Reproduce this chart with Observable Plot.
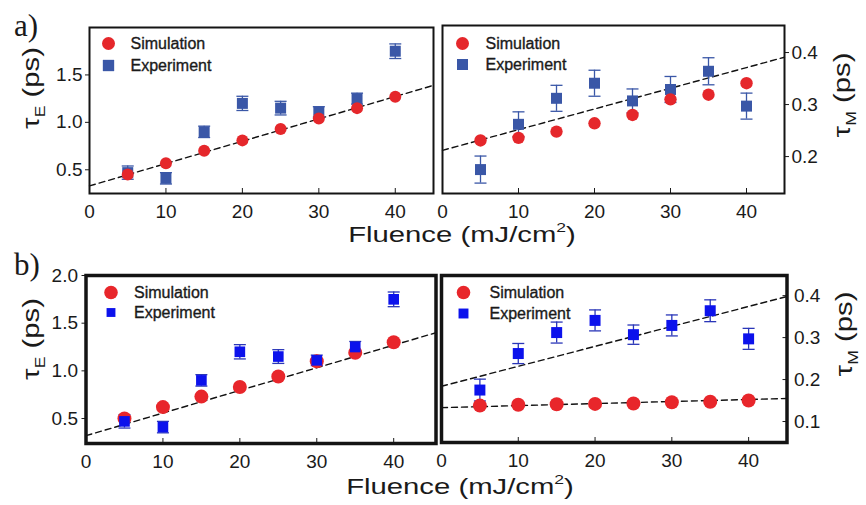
<!DOCTYPE html>
<html>
<head>
<meta charset="utf-8">
<script src="https://cdn.jsdelivr.net/npm/d3@7"></script>
<script src="https://cdn.jsdelivr.net/npm/@observablehq/plot@0.6"></script>
<style>
  body { margin: 0; background: #fff; }
  #fig { position: relative; width: 866px; height: 505px; overflow: hidden; background: #fff;
         font-family: "Liberation Sans", Arial, sans-serif; color: #1a1a1a; }
  #fig svg { position: absolute; overflow: visible; }
  .lbl { position: absolute; white-space: nowrap; line-height: 1; }
  .serif { font-family: "Liberation Serif", "Times New Roman", serif; }
  .sub { font-size: 0.6em; position: relative; top: 0.45em; }
  .sup { font-size: 0.6em; position: relative; top: -0.75em; }
</style>
</head>
<body>
<div id="fig"></div>
<script>
// Fluence values (mJ/cm^2)
const fluence = [5, 10, 15, 20, 25, 30, 35, 40];

// Electron lifetime tau_E (ps)
const tauE_exp   = [0.47, 0.41, 0.90, 1.20, 1.15, 1.11, 1.25, 1.75];
const tauE_err   = [0.07, 0.06, 0.06, 0.075, 0.072, 0.055, 0.058, 0.077];
const tauE_simA  = [0.45, 0.57, 0.70, 0.81, 0.93, 1.04, 1.15, 1.27];
const tauE_simB  = [0.50, 0.62, 0.73, 0.83, 0.94, 1.10, 1.19, 1.30];

// Magnon-like lifetime tau_M (ps)
const tauM_exp   = [0.175, 0.262, 0.312, 0.341, 0.307, 0.329, 0.364, 0.297];
const tauM_err   = [0.026, 0.024, 0.025, 0.025, 0.023, 0.025, 0.026, 0.025];
const tauM_simA  = [0.231, 0.236, 0.248, 0.264, 0.280, 0.310, 0.319, 0.341];
const tauM_simB  = [0.138, 0.140, 0.141, 0.142, 0.143, 0.146, 0.147, 0.150];

// Linear fits, given by their end points
const fitX_A      = [0, 45];
const fitX_B      = [0, 45.5];
const fitE_A      = [0.33, 1.39];
const fitE_B      = [0.32, 1.40];
const fitM_A      = [0.212, 0.391];
const fitM_B_exp  = [0.184, 0.398];
const fitM_B_sim  = [0.133, 0.155];

// Tick values
const xTicks       = [0, 10, 20, 30, 40];
const tauE_ticksA  = [0.5, 1.0, 1.5];
const tauE_ticksB  = [0.5, 1.0, 1.5, 2.0];
const tauM_ticksA  = [0.2, 0.3, 0.4];
const tauM_ticksB  = [0.1, 0.2, 0.3, 0.4];

const legendLabels = ["Simulation", "Experiment"];

const rows = (ys, errs) => fluence.map((x, i) => ({x, y: ys[i], e: errs ? errs[i] : 0}));
const fitRows = (xs, ys) => xs.map((x, i) => ({x, y: ys[i]}));

// horizontal cap drawn at the ends of each error bar
const capSymbol = { draw(ctx) { ctx.moveTo(-6, 0); ctx.lineTo(6, 0); } };

const fig = document.getElementById("fig");
const fmt = d3.format(".1f");

function panel(o) {
  const [fx0, fy0, fx1, fy1] = o.frame;
  const marginLeft = fx0 - o.left, marginTop = fy0 - o.top;
  const marginRight = o.left + o.width - fx1, marginBottom = o.top + o.height - fy1;
  const exp = rows(o.exp, o.err), sim = rows(o.sim);
  const anchorY = o.yAnchor;
  const marks = [
    ...o.fits.map(f => Plot.line(fitRows(f.x, f.y), {x: "x", y: "y", stroke: "#111", strokeWidth: 1.4, strokeDasharray: "6,4"})),
    Plot.ruleX(exp, {x: "x", y1: d => d.y - d.e, y2: d => d.y + d.e, stroke: o.errColor, strokeWidth: 1.3}),
    Plot.dot(exp, {x: "x", y: d => d.y + d.e, symbol: capSymbol, fill: "none", stroke: o.errColor, strokeWidth: 1.3}),
    Plot.dot(exp, {x: "x", y: d => d.y - d.e, symbol: capSymbol, fill: "none", stroke: o.errColor, strokeWidth: 1.3})
  ];
  const squares = Plot.dot(exp, {x: "x", y: "y", symbol: "square", r: o.rSq, fill: o.blue});
  const circles = Plot.dot(sim, {x: "x", y: "y", r: o.rCirc, fill: o.red});
  if (o.simOnTop) marks.push(squares, circles); else marks.push(circles, squares);

  // legend inside the upper-left corner of the frame
  const L = o.legend;
  marks.push(
    Plot.dot([0], {x: null, y: null, frameAnchor: "top-left", dx: L.dx, dy: L.dy1, r: L.rCirc, fill: o.red}),
    Plot.dot([0], {x: null, y: null, frameAnchor: "top-left", dx: L.dx, dy: L.dy2, r: L.rSq, symbol: "square", fill: o.blue}),
    Plot.text([legendLabels[0]], {frameAnchor: "top-left", text: d => d, dx: L.tx, dy: L.dy1, textAnchor: "start", lineAnchor: "middle",
      fontSize: 16, fill: "#1a1a1a", stroke: "#1a1a1a", strokeWidth: 0.35}),
    Plot.text([legendLabels[1]], {frameAnchor: "top-left", text: d => d, dx: L.tx, dy: L.dy2, textAnchor: "start", lineAnchor: "middle",
      fontSize: 16, fill: "#1a1a1a", stroke: "#1a1a1a", strokeWidth: 0.35})
  );

  // axes: labels outside, small ticks
  marks.push(
    Plot.axisX(xTicks, {tickSize: 0, tickPadding: o.xPad, fontSize: 19, fill: "#1a1a1a", tickFormat: d => d, label: null}),
    Plot.axisX(xTicks, {tickSize: 5, dy: -5, tickFormat: () => "", label: null, stroke: "#1a1a1a"}),
    o.yInside
      ? Plot.axisY(o.yTicks, {anchor: anchorY, tickSize: 5, dx: anchorY === "right" ? -5 : 5, tickFormat: () => "", label: null, stroke: "#1a1a1a"})
      : Plot.axisY(o.yTicks, {anchor: anchorY, tickSize: 4, tickFormat: () => "", label: null, stroke: "#1a1a1a"}),
    Plot.axisY(o.yTicks, {anchor: anchorY, tickSize: 0, tickPadding: o.yPad, fontSize: 19, fill: "#1a1a1a", tickFormat: fmt, label: null}),
    Plot.frame({stroke: "#141414", strokeWidth: o.frameWidth})
  );

  const svg = Plot.plot({
    width: o.width, height: o.height,
    marginLeft, marginRight, marginTop, marginBottom,
    style: {background: "none", overflow: "visible", fontFamily: "'Liberation Sans', Arial, sans-serif"},
    x: {domain: o.xDomain, axis: null},
    y: {domain: o.yDomain, axis: null},
    marks
  });
  svg.style.left = o.left + "px";
  svg.style.top = o.top + "px";
  fig.appendChild(svg);
}

const redA = "#e5272b", blueA = "#3a57a7";
const redB = "#e8262b", blueB = "#0c12ec";

// a) left: tau_E
panel({left: 0, top: 0, width: 440, height: 235, frame: [89, 27, 433, 193],
  xDomain: [0, 45], yDomain: [0.25, 2.0], yTicks: tauE_ticksA, yAnchor: "left", yPad: 7, xPad: 11,
  exp: tauE_exp, err: tauE_err, sim: tauE_simA, fits: [{x: fitX_A, y: fitE_A}],
  red: redA, blue: blueA, errColor: blueA, rCirc: 6, rSq: 6.2, simOnTop: true, frameWidth: 2,
  legend: {dx: 19, dy1: 16, dy2: 38, tx: 41, rCirc: 6.5, rSq: 6.4}});

// a) right: tau_M
panel({left: 436, top: 0, width: 430, height: 235, frame: [442, 25, 784, 193],
  xDomain: [0, 45], yDomain: [0.129, 0.452], yTicks: tauM_ticksA, yAnchor: "right", yPad: 7, xPad: 11,
  exp: tauM_exp, err: tauM_err, sim: tauM_simA, fits: [{x: fitX_A, y: fitM_A}],
  red: redA, blue: blueA, errColor: blueA, rCirc: 6.2, rSq: 6.2, simOnTop: true, frameWidth: 2,
  legend: {dx: 20, dy1: 18, dy2: 39, tx: 43, rCirc: 6.5, rSq: 6.2}});

// b) left: tau_E
panel({left: 0, top: 250, width: 440, height: 250, frame: [85.5, 275, 435.5, 443],
  xDomain: [0, 45.5], yDomain: [0.238, 2.0], yTicks: tauE_ticksB, yAnchor: "left", yPad: 8, xPad: 11,
  exp: tauE_exp, err: tauE_err, sim: tauE_simB, fits: [{x: fitX_B, y: fitE_B}],
  red: redB, blue: blueB, errColor: "#2a36b8", rCirc: 7, rSq: 6, simOnTop: false, frameWidth: 3.5,
  legend: {dx: 25, dy1: 17, dy2: 37, tx: 48, rCirc: 6.8, rSq: 5}});

// b) right: tau_M
panel({left: 436, top: 250, width: 430, height: 250, frame: [441, 275, 786.5, 442],
  xDomain: [0, 45], yDomain: [0.05, 0.448], yTicks: tauM_ticksB, yAnchor: "right", yInside: true, yPad: 7, xPad: 11,
  exp: tauM_exp, err: tauM_err, sim: tauM_simB, fits: [{x: fitX_A, y: fitM_B_exp}, {x: fitX_A, y: fitM_B_sim}],
  red: redB, blue: blueB, errColor: "#2a36b8", rCirc: 7, rSq: 6.2, simOnTop: false, frameWidth: 3.5,
  legend: {dx: 22, dy1: 17, dy2: 38, tx: 48, rCirc: 6.8, rSq: 5.6}});

// panel letters and axis titles
const labels = [
  {html: "a)", cls: "serif", style: "left:14px;top:10px;font-size:31px;"},
  {html: "b)", cls: "serif", style: "left:14px;top:249px;font-size:31px;"},
  {html: "Fluence (mJ/cm<span class='sup'>2</span>)", style: "left:462px;top:224px;font-size:22px;transform:translateX(-50%) scaleX(1.33);"},
  {html: "Fluence (mJ/cm<span class='sup'>2</span>)", style: "left:460px;top:476px;font-size:22px;transform:translateX(-50%) scaleX(1.33);"},
  {html: "τ<span class='sub'>E</span> (ps)", style: "left:31px;top:88px;font-size:24px;transform:translate(-50%,-50%) rotate(-90deg) scaleX(1.22);"},
  {html: "τ<span class='sub'>E</span> (ps)", style: "left:31px;top:339px;font-size:24px;transform:translate(-50%,-50%) rotate(-90deg) scaleX(1.22);"},
  {html: "τ<span class='sub'>M</span> (ps)", style: "left:842px;top:95px;font-size:24px;transform:translate(-50%,-50%) rotate(-90deg) scaleX(1.22);"},
  {html: "τ<span class='sub'>M</span> (ps)", style: "left:844px;top:334px;font-size:24px;transform:translate(-50%,-50%) rotate(-90deg) scaleX(1.22);"}
];
for (const l of labels) {
  const div = document.createElement("div");
  div.className = "lbl " + (l.cls || "");
  div.setAttribute("style", l.style);
  div.innerHTML = l.html;
  fig.appendChild(div);
}
</script>
</body>
</html>
